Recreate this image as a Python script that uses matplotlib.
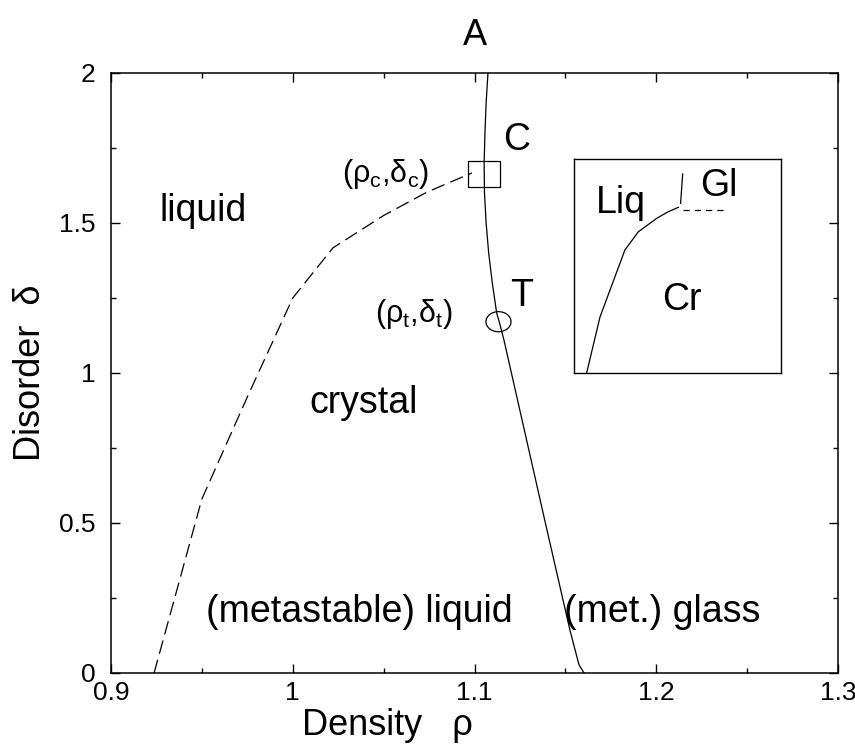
import matplotlib
matplotlib.use("Agg")
import matplotlib.pyplot as plt
from matplotlib.patches import Rectangle, Ellipse

plt.rcParams['font.family'] = ['Liberation Sans', 'DejaVu Sans']
plt.rcParams['mathtext.default'] = 'regular'

# solid boundary (crystal | glass)
solid_rho = [1.1074, 1.1064, 1.1058, 1.1053, 1.1055, 1.1064, 1.1078, 1.1098, 1.1122, 1.1135,
             1.1162, 1.139, 1.1525, 1.1575, 1.1603]
solid_delta = [2.0, 1.9, 1.81, 1.7, 1.6, 1.5, 1.4, 1.3, 1.2, 1.173,
               1.11, 0.5, 0.143, 0.027, 0.0]

# dashed boundary (liquid | crystal)
dash_rho = [0.9237, 0.95, 0.975, 1.0, 1.0221, 1.05, 1.0739, 1.0986]
dash_delta = [0.0, 0.58, 0.92, 1.25, 1.417, 1.525, 1.603, 1.667]

# special points: critical point C and triple point T
crit = (1.1054, 1.663)
triple = (1.1132, 1.171)

# inset sketch (axes fraction units)
ins_curve_x = [0.061, 0.126, 0.246, 0.311, 0.400, 0.456, 0.504]
ins_curve_y = [0.0, 0.263, 0.575, 0.660, 0.723, 0.754, 0.774]
ins_vert_x = [0.515, 0.525]
ins_vert_y = [0.793, 0.930]
ins_dash_x = [0.525, 0.738]
ins_dash_y = [0.762, 0.762]

fig = plt.figure(figsize=(8.55, 7.48), dpi=100)
ax = fig.add_axes([111/855, 1-673/748, 727/855, 600/748])

ax.plot(solid_rho, solid_delta, 'k-', lw=0.9)
ax.plot(dash_rho, dash_delta, 'k-', lw=0.9, dashes=(11, 5))

ax.add_patch(Rectangle((crit[0]-0.0088, crit[1]-0.0425), 0.0176, 0.085,
                       fill=False, ec='k', lw=0.9))
ax.add_patch(Ellipse(triple, 0.0138, 0.067, fill=False, ec='k', lw=0.9))

ax.set_xlim(0.9, 1.3)
ax.set_ylim(0, 2)
ax.set_xticks([0.9, 1.0, 1.1, 1.2, 1.3])
ax.set_xticklabels(['0.9', '1', '1.1', '1.2', '1.3'])
ax.set_yticks([0, 0.5, 1, 1.5, 2])
ax.set_yticklabels(['0', '0.5', '1', '1.5', '2'])
ax.set_xticks([0.95, 1.05, 1.15, 1.25], minor=True)
ax.set_yticks([0.25, 0.75, 1.25, 1.75], minor=True)
ax.tick_params(which='both', direction='in', top=True, right=True,
               labelsize=19, width=1.0)
ax.tick_params(which='major', length=6.5)
ax.tick_params(which='minor', length=3.5)
ax.tick_params(axis='x', pad=6)
ax.tick_params(axis='y', pad=11)
for s in ax.spines.values():
    s.set_linewidth(1.1)

ax.set_xlabel('Density   ρ', fontsize=26)
ax.xaxis.set_label_coords(0.38, -0.058)
ax.set_ylabel('Disorder  δ', fontsize=26, labelpad=8)
ax.set_title('A', fontsize=26, pad=20)

fs = 27
ax.text(0.9506, 1.508, 'liquid', fontsize=fs, ha='center', va='baseline')
ax.text(1.0387, 0.867, 'crystal', fontsize=fs, ha='center', va='baseline')
ax.text(1.0365, 0.170, '(metastable) liquid', fontsize=fs, ha='center', va='baseline')
ax.text(1.2032, 0.170, '(met.) glass', fontsize=fs, ha='center', va='baseline')
ax.text(1.1234, 1.743, 'C', fontsize=fs, ha='center', va='baseline')
ax.text(1.1259, 1.223, 'T', fontsize=fs, ha='center', va='baseline')
ax.text(1.0513, 1.637, r'(ρ$_c$,δ$_c$)', fontsize=22, ha='center', va='baseline')
ax.text(1.0667, 1.171, r'(ρ$_t$,δ$_t$)', fontsize=22, ha='center', va='baseline')

ins = fig.add_axes([574/855, 1-373/748, 207/855, 214/748])
ins.set_xlim(0, 1)
ins.set_ylim(0, 1)
ins.set_xticks([])
ins.set_yticks([])
for s in ins.spines.values():
    s.set_linewidth(1.0)
ins.plot(ins_curve_x, ins_curve_y, 'k-', lw=0.9)
ins.plot(ins_vert_x, ins_vert_y, 'k-', lw=0.9)
ins.plot(ins_dash_x, ins_dash_y, 'k-', lw=0.9, dashes=(5, 4))
ins.text(0.106, 0.748, 'Liq', fontsize=fs, ha='left', va='baseline')
ins.text(0.70, 0.825, 'Gl', fontsize=fs, ha='center', va='baseline')
ins.text(0.52, 0.294, 'Cr', fontsize=fs, ha='center', va='baseline')

fig.savefig('out.png', dpi=100)
